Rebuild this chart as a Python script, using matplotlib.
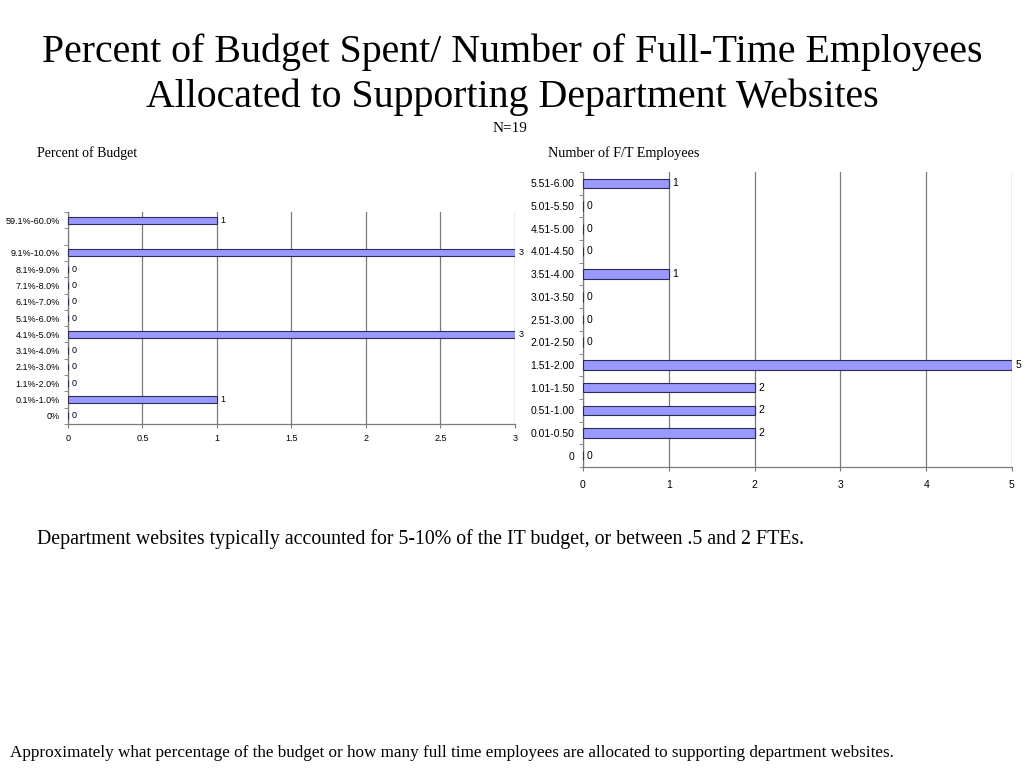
import numpy as np
import matplotlib.pyplot as plt

# Datos (de baixo para cima)
budget_cats = ['0%', '0.1%-1.0%', '1.1%-2.0%', '2.1%-3.0%', '3.1%-4.0%', '4.1%-5.0%',
               '5.1%-6.0%', '6.1%-7.0%', '7.1%-8.0%', '8.1%-9.0%', '9.1%-10.0%', '', '59.1%-60.0%']
budget_vals = [0, 1, 0, 0, 0, 3, 0, 0, 0, 0, 3, np.nan, 1]
budget_xticks = [0, 0.5, 1, 1.5, 2, 2.5, 3]

fte_cats = ['0', '0.01-0.50', '0.51-1.00', '1.01-1.50', '1.51-2.00', '2.01-2.50', '2.51-3.00',
            '3.01-3.50', '3.51-4.00', '4.01-4.50', '4.51-5.00', '5.01-5.50', '5.51-6.00']
fte_vals = [0, 2, 2, 2, 5, 0, 0, 0, 1, 0, 0, 0, 1]
fte_xticks = [0, 1, 2, 3, 4, 5]

BAR = '#9999ff'
EDGE = '#2b2b55'
GRID = '#7a7a7a'


def bar_panel(ax, cats, vals, xticks, fs, label_fs, xpad):
    y = np.arange(len(cats))
    v = np.array(vals, dtype=float)
    ok = ~np.isnan(v)
    ax.barh(y[ok], v[ok], height=0.42, color=BAR, edgecolor=EDGE, linewidth=0.8, zorder=3)
    xmax = xticks[-1]
    for yi, vi in zip(y[ok], v[ok]):
        ax.text(vi + xmax * 0.008, yi, '%d' % vi, va='center', ha='left',
                fontsize=label_fs, family='Liberation Sans', zorder=4)
    ax.set_xlim(0, xmax)
    ax.set_ylim(-0.5, len(cats) - 0.5)
    ax.set_xticks(xticks)
    ax.set_xticklabels(['%g' % t for t in xticks], fontsize=fs, family='Liberation Sans')
    ax.set_yticks(y)
    ax.set_yticklabels(cats, fontsize=fs, family='Liberation Sans')
    ax.set_yticks(np.arange(len(cats) + 1) - 0.5, minor=True)
    ax.tick_params(axis='y', which='major', length=0, pad=6)
    ax.tick_params(axis='y', which='minor', length=3, color=GRID)
    ax.tick_params(axis='x', length=3, color=GRID, pad=xpad)
    ax.grid(axis='x', color=GRID, linewidth=0.9, zorder=0)
    for s in ('top', 'right'):
        ax.spines[s].set_visible(False)
    for s in ('left', 'bottom'):
        ax.spines[s].set_color(GRID)
        ax.spines[s].set_linewidth(0.9)


fig = plt.figure(figsize=(10.24, 7.68), dpi=100)

fig.text(0.5, 1 - 52 / 768, 'Percent of Budget Spent/ Number of Full-Time Employees',
         ha='center', va='center', fontsize=28.7, family='Liberation Serif')
fig.text(0.5, 1 - 97 / 768, 'Allocated to Supporting Department Websites',
         ha='center', va='center', fontsize=28.7, family='Liberation Serif')
fig.text(0.498, 1 - 128 / 768, 'N=19', ha='center', va='center', fontsize=11, family='Liberation Serif')
fig.text(0.036, 0.801, 'Percent of Budget', ha='left', va='center', fontsize=10, family='Liberation Serif')
fig.text(0.535, 0.801, 'Number of F/T Employees', ha='left', va='center', fontsize=10.2,
         family='Liberation Serif')

ax1 = fig.add_axes([0.0664, 0.4479, 0.4365, 0.2760])
bar_panel(ax1, budget_cats, budget_vals, budget_xticks, 6.5, 6.5, 4)

ax2 = fig.add_axes([0.5693, 0.3919, 0.4189, 0.3841])
bar_panel(ax2, fte_cats, fte_vals, fte_xticks, 7.5, 7.5, 6)

fig.text(0.036, 0.298, 'Department websites typically accounted for 5-10% of the IT budget, '
         'or between .5 and 2 FTEs.', ha='left', va='center', fontsize=14.3, family='Liberation Serif')
fig.text(0.01, 0.019, 'Approximately what percentage of the budget or how many full time employees '
         'are allocated to supporting department websites.', ha='left', va='center', fontsize=12.3,
         family='Liberation Serif')

fig.savefig('out.png', dpi=100)
